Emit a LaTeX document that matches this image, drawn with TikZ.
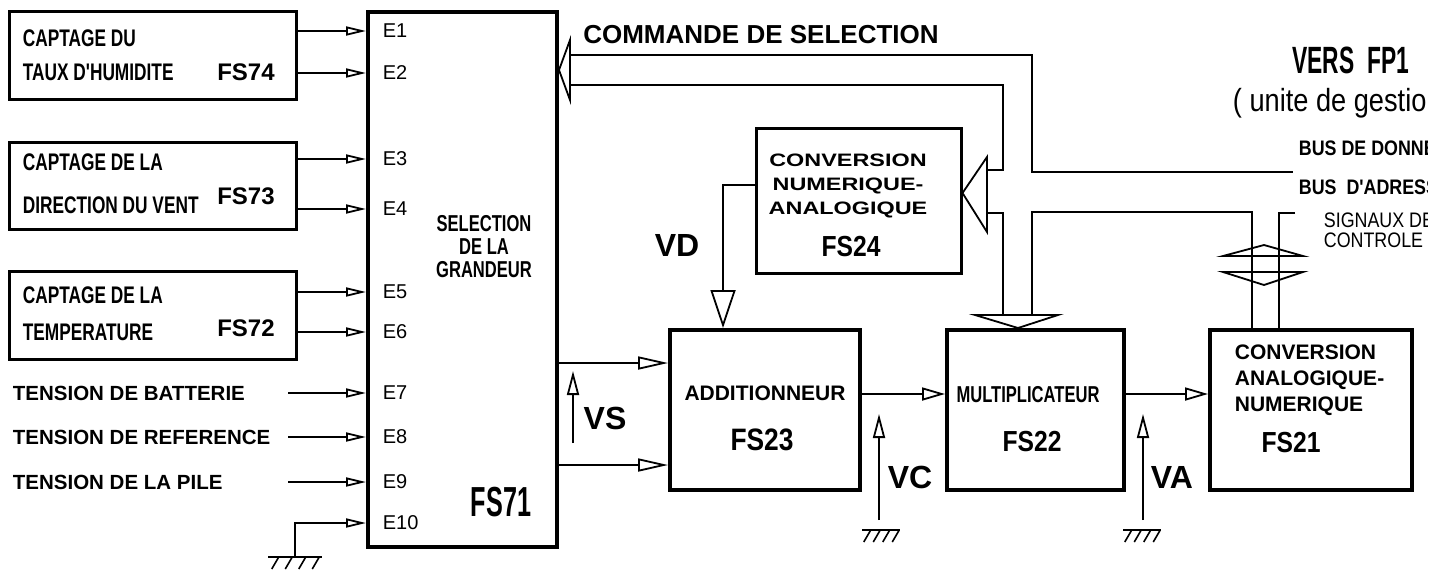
\documentclass[tikz,border=0pt]{standalone}
\usepackage{fontspec}
\setmainfont{Liberation Sans}
\newfontfamily\narrowfont[FakeStretch=0.72]{Liberation Sans}
\newfontfamily\xnarrowfont[FakeStretch=0.6]{Liberation Sans}
\newfontfamily\midfont[FakeStretch=0.85]{Liberation Sans}
\newfontfamily\widefont[FakeStretch=1.3]{Liberation Sans}
\usetikzlibrary{arrows.meta,positioning,calc}
\tikzset{every picture/.style={line width=1.8pt}}
\tikzset{
  blk/.style={draw, line width=2.5pt, anchor=north west, inner sep=0pt},
  mainblk/.style={draw, line width=4pt, anchor=north west, inner sep=0pt},
  bus/.style={line width=1.8pt},
  sig/.style={line width=1.8pt, -{Triangle[open,length=20pt,width=9pt]}},
  sigwide/.style={line width=1.8pt, -{Triangle[open,length=30pt,width=13pt]}},
  sigmid/.style={line width=1.8pt, -{Triangle[open,length=23pt,width=13pt]}},
  vsig/.style={line width=1.8pt, -{Triangle[open,length=24pt,width=12pt]}},
  vdsig/.style={line width=1.8pt, -{Triangle[open,length=38pt,width=25pt]}},
  boxtxt/.style={anchor=west, inner sep=0pt, font={\narrowfont\bfseries\fontsize{24}{26}\selectfont}},
  boxid/.style={inner sep=0pt, font={\bfseries\fontsize{24}{26}\selectfont}},
  tens/.style={anchor=west, inner sep=0pt, font={\bfseries\fontsize{20.5}{22}\selectfont}},
  elab/.style={anchor=west, inner sep=0pt, font={\fontsize{20}{22}\selectfont}},
  vlab/.style={inner sep=0pt, font={\bfseries\fontsize{32}{34}\selectfont}},
  fsmid/.style={inner sep=0pt, font={\midfont\bfseries\fontsize{29}{31}\selectfont}},
  pics/gnd/.style={code={
    \draw[line width=2.8pt] (-#1,0) -- (#1,0);
    \foreach \i in {1,...,4}
      \draw[line width=1.6pt] ({-#1+(\i-0.5)*#1/2+4},0) -- ++(-7,12);
  }}
}

\begin{document}
\begin{tikzpicture}[x=1pt,y=-1pt]
    \useasboundingbox (0,0) rectangle (1442,574);

    % blocs de captage
    \node[blk, minimum width=287pt, minimum height=88pt] (fs74) at (8,10) {};
    \node[blk, minimum width=287pt, minimum height=87pt] (fs73) at (8,141) {};
    \node[blk, minimum width=287pt, minimum height=88pt] (fs72) at (8,270) {};
    \node[boxtxt] (c74a) at (22,38) {CAPTAGE DU};
    \node[boxtxt] (c74b) at (22,72) {TAUX D'HUMIDITE};
    \node[boxid] (n74) at (246,72) {FS74};
    \node[boxtxt] (c73a) at (22,162) {CAPTAGE DE LA};
    \node[boxtxt] (c73b) at (22,205) {DIRECTION DU VENT};
    \node[boxid] (n73) at (246,196) {FS73};
    \node[boxtxt] (c72a) at (22,295) {CAPTAGE DE LA};
    \node[boxtxt] (c72b) at (22,332) {TEMPERATURE};
    \node[boxid] (n72) at (246,328) {FS72};

    % tensions
    \node[tens] (t7) at (12,393) {TENSION DE BATTERIE};
    \node[tens] (t8) at (12,437) {TENSION DE REFERENCE};
    \node[tens] (t9) at (12,482) {TENSION DE LA PILE};

    % selection de la grandeur
    \node[mainblk, minimum width=189pt, minimum height=535pt] (fs71) at (366,10) {};
    \node[inner sep=0pt, align=center, font={\narrowfont\bfseries\fontsize{23}{23}\selectfont}] (sel) at (484,247) {SELECTION\\DE LA\\GRANDEUR};
    \node[inner sep=0pt, font={\xnarrowfont\bfseries\fontsize{42}{44}\selectfont}] (n71) at (501,502) {FS71};

    % entrees E1 a E10
    \foreach \k/\yy in {1/31,2/73,3/159,4/209,5/292,6/332,7/393,8/437,9/482,10/523}{
      \coordinate (e\k) at (366,\yy);
      \node[elab] (le\k) at (382,\yy) {E\k};
    }
    \foreach \k/\src in {1/fs74,2/fs74,3/fs73,4/fs73,5/fs72,6/fs72}
      \draw[sig] (\src.east |- e\k) -- (fs71.west |- e\k);
    \foreach \k in {7,8,9}{
      \coordinate (s\k) at (288,0 |- e\k);
      \draw[sig] (s\k) -- (fs71.west |- e\k);
    }
    \coordinate (g10) at (295,557);
    \draw[sig] (g10) |- (fs71.west |- e10);
    \pic at (g10) {gnd=27};

    % commande de selection
    \node[inner sep=0pt, font={\bfseries\fontsize{26}{28}\selectfont}] (cmd) at (761,35) {COMMANDE DE SELECTION};

    % conversion numerique-analogique
    \node[blk, minimum width=205pt, minimum height=145pt] (fs24) at (755,127) {};
    \node[inner sep=0pt, align=center, font={\widefont\bfseries\fontsize{18}{24}\selectfont}] (cna) at (848,186) {CONVERSION\\NUMERIQUE-\\ANALOGIQUE};
    \node[fsmid] (n24) at (851,247) {FS24};

    % additionneur
    \node[mainblk, minimum width=190pt, minimum height=160pt] (fs23) at (668,328) {};
    \node[inner sep=0pt, font={\bfseries\fontsize{21}{23}\selectfont}] (add) at (765,393) {ADDITIONNEUR};
    \node[inner sep=0pt, font={\midfont\bfseries\fontsize{31}{33}\selectfont}] (n23) at (762,440) {FS23};

    % multiplicateur
    \node[mainblk, minimum width=177pt, minimum height=160pt] (fs22) at (945,328) {};
    \node[inner sep=0pt, font={\narrowfont\bfseries\fontsize{23}{25}\selectfont}] (mul) at (1028,395) {MULTIPLICATEUR};
    \node[fsmid] (n22) at (1032,442) {FS22};

    % conversion analogique-numerique
    \node[mainblk, minimum width=202pt, minimum height=160pt] (fs21) at (1208,328) {};
    \node[inner sep=0pt, anchor=west, align=left, font={\bfseries\fontsize{21}{26}\selectfont}] (can) at (1234,380) {CONVERSION\\ANALOGIQUE-\\NUMERIQUE};
    \node[fsmid] (n21) at (1291,443) {FS21};

    % liaisons analogiques
    \coordinate (a1) at (600,363);
    \coordinate (a2) at (600,465);
    \draw[sigwide] (fs71.east |- a1) -- (fs23.west |- a1);
    \draw[sigwide] (fs71.east |- a2) -- (fs23.west |- a2);
    \coordinate (m1) at (900,394);
    \draw[sigmid] (fs23.east |- m1) -- (fs22.west |- m1);
    \draw[sigmid] (fs22.east |- m1) -- (fs21.west |- m1);

    % tensions VS, VC, VA, VD
    \coordinate (vsb) at (573,443);
    \coordinate (vst) at (573,371);
    \draw[vsig] (vsb) -- (vst);
    \node[vlab] (vs) at (605,418) {VS};
    \coordinate (vcb) at (879,520);
    \coordinate (vct) at (879,414);
    \coordinate (gvc) at (881,530);
    \draw[vsig] (vcb) -- (vct);
    \pic at (gvc) {gnd=19};
    \node[vlab] (vc) at (910,477) {VC};
    \coordinate (vab) at (1143,520);
    \coordinate (vat) at (1143,414);
    \coordinate (gva) at (1142,530);
    \draw[vsig] (vab) -- (vat);
    \pic at (gva) {gnd=19};
    \node[vlab] (va) at (1172,477) {VA};
    \coordinate (vd) at (723,185);
    \draw[vdsig] (fs24.west |- vd) -| (fs23.north -| vd);
    \node[vlab] (vdl) at (677,245) {VD};

    % bus
    \draw[bus] (570,55) -- (1032,55) -- (1032,172) -- (1293,172);
    \draw[bus] (570,85) -- (1003,85) -- (1003,170) -- (987,170);
    \draw[bus] (987,213) -- (1003,213) -- (1003,315);
    \draw[bus] (1032,315) -- (1032,212) -- (1252,212) -- (fs21.north -| 1252,0);
    \draw[bus] (1295,213) -- (1279,213) -- (fs21.north -| 1279,0);
    \draw[bus, fill=white] (fs71.east |- 0,70) -- (570,40) -- (570,100) -- cycle;
    \draw[bus, fill=white] (fs24.east |- 0,193) -- (987,157) -- (987,232) -- cycle;
    \draw[bus, fill=white] (975,315) -- (1058,315) -- (fs22.north -| 1018,0) -- cycle;
    \draw[bus] (1223,256) -- (1264,245) -- (1303,256) -- cycle;
    \draw[bus] (1223,272) -- (1264,285) -- (1303,272) -- cycle;

    % vers FP1 (texte coupe au bord)
    \begin{scope}
      \clip (1200,0) rectangle (1427,260);
      \node[inner sep=0pt, anchor=east, font={\xnarrowfont\bfseries\fontsize{38}{40}\selectfont}] (fp1) at (1410,60) {VERS\ \ FP1};
      \node[inner sep=0pt, anchor=west, font={\midfont\fontsize{32}{34}\selectfont}] (ug) at (1232,103) {( unite de gestion};
      \node[inner sep=0pt, anchor=west, font={\midfont\bfseries\fontsize{21}{23}\selectfont}] (bd) at (1298,148) {BUS DE DONNE};
      \node[inner sep=0pt, anchor=west, font={\midfont\bfseries\fontsize{21}{23}\selectfont}] (ba) at (1298,187) {BUS\ \ D'ADRESS};
      \node[inner sep=0pt, anchor=west, align=left, font={\midfont\fontsize{21}{20}\selectfont}] (sc) at (1323,230) {SIGNAUX DE\\CONTROLE};
    \end{scope}
\end{tikzpicture}
\end{document}
